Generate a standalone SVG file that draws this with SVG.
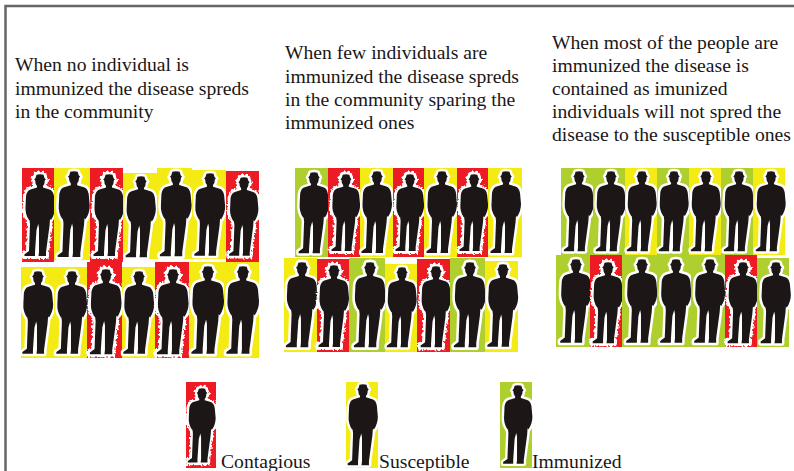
<svg xmlns="http://www.w3.org/2000/svg" xmlns:xlink="http://www.w3.org/1999/xlink" width="794" height="471" viewBox="0 0 794 471">
<style>
.r{fill:#ed1c24}.y{fill:#f4ea14}.g{fill:#afcf2f}
text{font-family:"Liberation Serif","Times New Roman",serif;font-size:19.65px;fill:#1a1718}
.halo{fill:#fff;stroke:#fff;stroke-linejoin:round}
.dark{fill:#1b1819}
</style>
<defs>
<path id="b" d="M-3.500 .8Q0-.4 3.500 .8L4.500 4 5.800 5.500 4.800 6.500Q4.800 10.500 3 12L3 13.500 9.500 15.500Q13 16.500 14 22L15 33Q15 40 11 46L10 45 9.500 52 6 78 6 82-1.500 82-1 78-1 54-1.800 50-3.500 56-5 78-5 82-15.500 82-15.500 80.300-11 77-10 50-10.500 46-11 46Q-15 40-14.500 33L-14 22Q-13 16.500-9.500 15.500L-3 13.500-3 12Q-4.800 10.500-4.800 6.500L-5.800 5.500-4.500 4Z"/>
<filter id="rough" x="-30%" y="-20%" width="160%" height="140%"><feTurbulence type="fractalNoise" baseFrequency="0.4" numOctaves="2" seed="4"/><feDisplacementMap in="SourceGraphic" scale="5" xChannelSelector="R" yChannelSelector="G"/></filter>
<filter id="soft" x="-20%" y="-10%" width="140%" height="120%"><feGaussianBlur stdDeviation="0.4"/></filter>
<g id="s"><use xlink:href="#b" href="#b" class="halo" style="stroke-width:5" filter="url(#soft)"/><use xlink:href="#b" href="#b" class="dark" filter="url(#soft)"/></g>
<g id="t"><use xlink:href="#b" href="#b" class="halo" style="stroke-width:6" filter="url(#rough)"/><use xlink:href="#b" href="#b" class="dark" filter="url(#soft)"/></g>
</defs>
<rect width="794" height="471" fill="#fff"/>
<path d="M794 6H5.500V471" fill="none" stroke="#666" stroke-width="2.500"/>

<g id="caption-1">
<text x="15" y="71">When no individual is</text>
<text x="15" y="95">immunized the disease spreds</text>
<text x="15" y="118">in the community</text>
</g>
<g id="caption-2">
<text x="285" y="59">When few individuals are</text>
<text x="285" y="83">immunized the disease spreds</text>
<text x="285" y="106">in the community sparing the</text>
<text x="285" y="129">immunized ones</text>
</g>
<g id="caption-3">
<text x="552" y="49">When most of the people are</text>
<text x="552" y="72">immunized the disease is</text>
<text x="552" y="95">contained as imunized</text>
<text x="552" y="118">individuals will not spred the</text>
<text x="552" y="141">disease to the susceptible ones</text>
</g>

<g id="group-none">
<g id="n1"><rect class="r" x="22" y="168" width="32" height="94"/><use href="#t" transform="translate(40 174)"/></g>
<g id="n2"><rect class="y" x="54" y="168" width="36" height="92"/><use href="#s" transform="translate(74 171) scale(1.05)"/></g>
<g id="n3"><rect class="r" x="90" y="168" width="33" height="94"/><use href="#t" transform="translate(109 174)"/></g>
<g id="n4"><rect class="y" x="123" y="173" width="34" height="86"/><use href="#s" transform="translate(141 176) scale(.99)"/></g>
<g id="n5"><rect class="y" x="157" y="168" width="35" height="91"/><use href="#s" transform="translate(176 171) scale(1.04)"/></g>
<g id="n6"><rect class="y" x="192" y="170" width="34" height="89"/><use href="#s" transform="translate(210 173) scale(1.01)"/></g>
<g id="n7"><rect class="r" x="226" y="171" width="33" height="91"/><use href="#t" transform="translate(244 177) scale(.96)"/></g>
<g id="n8"><rect class="y" x="21" y="267" width="33" height="91"/><use href="#s" transform="translate(38 271) scale(1.01)"/></g>
<g id="n9"><rect class="y" x="54" y="267" width="33" height="91"/><use href="#s" transform="translate(72 271) scale(1.01)"/></g>
<g id="n10"><rect class="r" x="87" y="262" width="35" height="96"/><use href="#t" transform="translate(106 269) scale(1.04)"/></g>
<g id="n11"><rect class="y" x="122" y="267" width="33" height="91"/><use href="#s" transform="translate(139 271) scale(1.01)"/></g>
<g id="n12"><rect class="r" x="155" y="262" width="34" height="96"/><use href="#t" transform="translate(173 269) scale(1.04)"/></g>
<g id="n13"><rect class="y" x="189" y="262" width="35" height="96"/><use href="#s" transform="translate(208 266) scale(1.07)"/></g>
<g id="n14"><rect class="y" x="224" y="262" width="35" height="96"/><use href="#s" transform="translate(243 266) scale(1.07)"/></g>
</g>

<g id="group-few">
<g id="f1"><rect class="g" x="295" y="168" width="33" height="89"/><use href="#s" transform="translate(314 172) scale(.99)"/></g>
<g id="f2"><rect class="r" x="328" y="168" width="32" height="89"/><use href="#t" transform="translate(346 174) scale(.94)"/></g>
<g id="f3"><rect class="y" x="360" y="168" width="33" height="89"/><use href="#s" transform="translate(377 171)"/></g>
<g id="f4"><rect class="r" x="393" y="168" width="31" height="89"/><use href="#t" transform="translate(410 174) scale(.94)"/></g>
<g id="f5"><rect class="y" x="424" y="168" width="33" height="89"/><use href="#s" transform="translate(442 171)"/></g>
<g id="f6"><rect class="r" x="457" y="168" width="31" height="89"/><use href="#t" transform="translate(474 174) scale(.94)"/></g>
<g id="f7"><rect class="y" x="488" y="168" width="34" height="89"/><use href="#s" transform="translate(506 171)"/></g>
<g id="f8"><rect class="y" x="284" y="258" width="33" height="94"/><use href="#s" transform="translate(302 262) scale(1.04)"/></g>
<g id="f9"><rect class="r" x="317" y="259" width="32" height="93"/><use href="#t" transform="translate(334 265)"/></g>
<g id="f10"><rect class="g" x="349" y="258" width="36" height="94"/><use href="#s" transform="translate(370 262) scale(1.04)"/></g>
<g id="f11"><rect class="y" x="385" y="264" width="32" height="88"/><use href="#s" transform="translate(402 267) scale(.98)"/></g>
<g id="f12"><rect class="r" x="417" y="259" width="33" height="93"/><use href="#t" transform="translate(436 266) scale(.99)"/></g>
<g id="f13"><rect class="g" x="450" y="258" width="35" height="94"/><use href="#s" transform="translate(470 262) scale(1.04)"/></g>
<g id="f14"><rect class="y" x="485" y="261" width="33" height="91"/><use href="#s" transform="translate(503 264) scale(1.01)"/></g>
</g>

<g id="group-most">
<g id="m1"><rect class="g" x="561" y="168" width="32" height="87"/><use href="#s" transform="translate(579 171) scale(.98)"/></g>
<g id="m2"><rect class="g" x="593" y="168" width="32" height="87"/><use href="#s" transform="translate(611 171) scale(.98)"/></g>
<g id="m3"><rect class="y" x="625" y="168" width="32" height="87"/><use href="#s" transform="translate(642 171) scale(.98)"/></g>
<g id="m4"><rect class="g" x="657" y="168" width="32" height="87"/><use href="#s" transform="translate(674 171) scale(.98)"/></g>
<g id="m5"><rect class="y" x="689" y="168" width="32" height="87"/><use href="#s" transform="translate(706 171) scale(.98)"/></g>
<g id="m6"><rect class="g" x="721" y="168" width="32" height="87"/><use href="#s" transform="translate(739 171) scale(.98)"/></g>
<g id="m7"><rect class="y" x="753" y="168" width="32" height="87"/><use href="#s" transform="translate(771 171) scale(.98)"/></g>
<g id="m8"><rect class="g" x="556" y="255" width="34" height="92"/><use href="#s" transform="translate(576 259) scale(1.02)"/></g>
<g id="m9"><rect class="r" x="590" y="255" width="32" height="92"/><use href="#t" transform="translate(608 262) scale(.99)"/></g>
<g id="m10"><rect class="g" x="622" y="255" width="35" height="92"/><use href="#s" transform="translate(642 259) scale(1.02)"/></g>
<g id="m11"><rect class="g" x="657" y="255" width="34" height="92"/><use href="#s" transform="translate(676 259) scale(1.02)"/></g>
<g id="m12"><rect class="g" x="691" y="255" width="34" height="92"/><use href="#s" transform="translate(710 259) scale(1.02)"/></g>
<g id="m13"><rect class="r" x="725" y="255" width="32" height="92"/><use href="#t" transform="translate(743 262) scale(.99)"/></g>
<g id="m14"><rect class="g" x="757" y="258" width="32" height="89"/><use href="#s" transform="translate(776 262) scale(.99)"/></g>
</g>

<g id="legend-contagious"><rect class="r" x="186" y="382" width="30" height="86"/><use href="#t" transform="translate(202 388) scale(.91)"/><text x="221" y="468">Contagious</text></g>
<g id="legend-susceptible"><rect class="y" x="346" y="382" width="32" height="86"/><use href="#s" transform="translate(363 384) scale(.99)"/><text x="379" y="468">Susceptible</text></g>
<g id="legend-immunized"><rect class="g" x="500" y="382" width="32" height="86"/><use href="#s" transform="translate(518 385) scale(.96)"/><text x="532" y="468">Immunized</text></g>
</svg>
